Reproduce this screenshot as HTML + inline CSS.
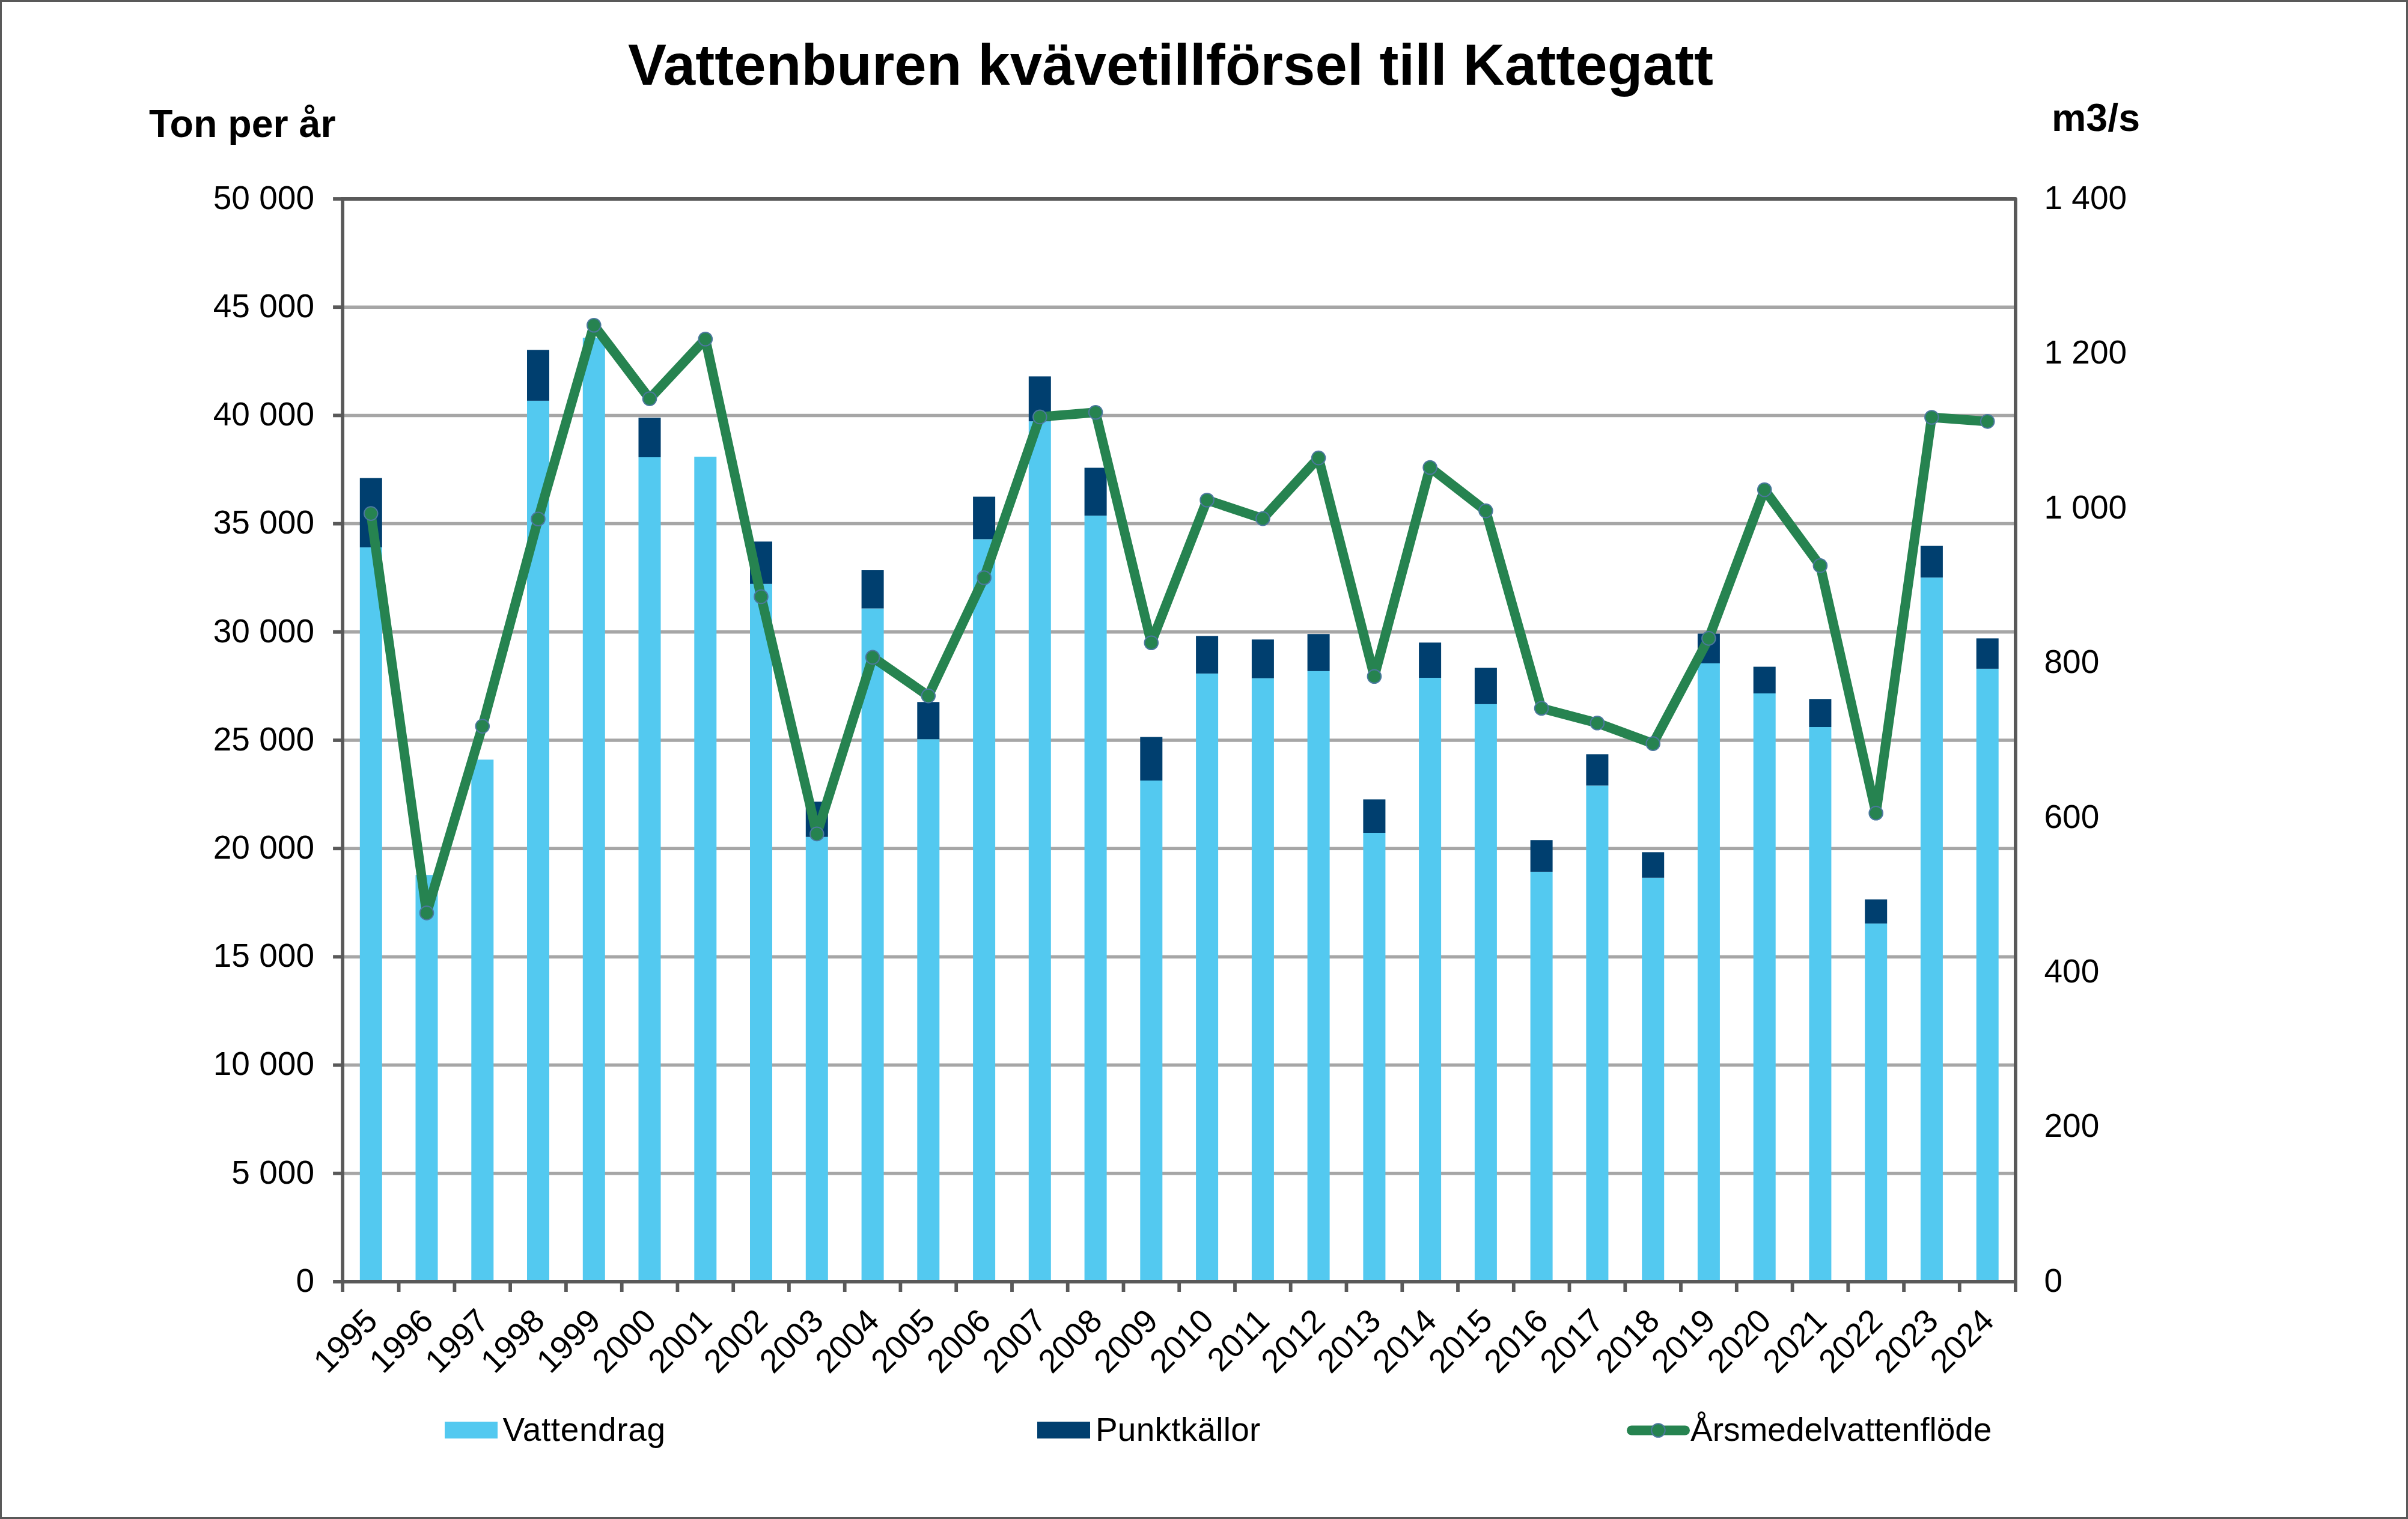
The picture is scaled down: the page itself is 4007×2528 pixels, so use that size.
<!DOCTYPE html><html><head><meta charset="utf-8"><style>html,body{margin:0;padding:0;background:#fff;}svg{display:block;font-family:"Liberation Sans", sans-serif;}</style></head><body>
<svg width="4007" height="2528" viewBox="0 0 4007 2528">
<rect x="0" y="0" width="4007" height="2528" fill="#fff"/>
<rect x="1.5" y="1.5" width="4004" height="2525" fill="none" stroke="#595959" stroke-width="3"/>
<line x1="570.1" y1="511.2" x2="3353.9" y2="511.2" stroke="#a6a6a6" stroke-width="5.5"/>
<line x1="570.1" y1="691.4" x2="3353.9" y2="691.4" stroke="#a6a6a6" stroke-width="5.5"/>
<line x1="570.1" y1="871.6" x2="3353.9" y2="871.6" stroke="#a6a6a6" stroke-width="5.5"/>
<line x1="570.1" y1="1051.8" x2="3353.9" y2="1051.8" stroke="#a6a6a6" stroke-width="5.5"/>
<line x1="570.1" y1="1232.0" x2="3353.9" y2="1232.0" stroke="#a6a6a6" stroke-width="5.5"/>
<line x1="570.1" y1="1412.2" x2="3353.9" y2="1412.2" stroke="#a6a6a6" stroke-width="5.5"/>
<line x1="570.1" y1="1592.4" x2="3353.9" y2="1592.4" stroke="#a6a6a6" stroke-width="5.5"/>
<line x1="570.1" y1="1772.6" x2="3353.9" y2="1772.6" stroke="#a6a6a6" stroke-width="5.5"/>
<line x1="570.1" y1="1952.8" x2="3353.9" y2="1952.8" stroke="#a6a6a6" stroke-width="5.5"/>
<rect x="598.8" y="910.9" width="37.0" height="1222.1" fill="#53c9f0"/>
<rect x="598.8" y="795.6" width="37.0" height="115.3" fill="#003f6f"/>
<rect x="691.5" y="1456.2" width="37.0" height="676.8" fill="#53c9f0"/>
<rect x="784.3" y="1264.2" width="37.0" height="868.8" fill="#53c9f0"/>
<rect x="877.0" y="666.9" width="37.0" height="1466.1" fill="#53c9f0"/>
<rect x="877.0" y="582.3" width="37.0" height="84.6" fill="#003f6f"/>
<rect x="969.8" y="562.0" width="37.0" height="1571.0" fill="#53c9f0"/>
<rect x="1062.5" y="761.0" width="37.0" height="1372.0" fill="#53c9f0"/>
<rect x="1062.5" y="695.2" width="37.0" height="65.8" fill="#003f6f"/>
<rect x="1155.3" y="760.1" width="37.0" height="1372.9" fill="#53c9f0"/>
<rect x="1248.0" y="971.8" width="37.0" height="1161.2" fill="#53c9f0"/>
<rect x="1248.0" y="901.3" width="37.0" height="70.5" fill="#003f6f"/>
<rect x="1340.8" y="1392.8" width="37.0" height="740.2" fill="#53c9f0"/>
<rect x="1340.8" y="1334.2" width="37.0" height="58.6" fill="#003f6f"/>
<rect x="1433.6" y="1012.6" width="37.0" height="1120.4" fill="#53c9f0"/>
<rect x="1433.6" y="949.0" width="37.0" height="63.6" fill="#003f6f"/>
<rect x="1526.3" y="1230.2" width="37.0" height="902.8" fill="#53c9f0"/>
<rect x="1526.3" y="1168.3" width="37.0" height="61.9" fill="#003f6f"/>
<rect x="1619.1" y="897.4" width="37.0" height="1235.6" fill="#53c9f0"/>
<rect x="1619.1" y="826.6" width="37.0" height="70.8" fill="#003f6f"/>
<rect x="1711.8" y="701.2" width="37.0" height="1431.8" fill="#53c9f0"/>
<rect x="1711.8" y="626.4" width="37.0" height="74.8" fill="#003f6f"/>
<rect x="1804.6" y="858.2" width="37.0" height="1274.8" fill="#53c9f0"/>
<rect x="1804.6" y="778.5" width="37.0" height="79.7" fill="#003f6f"/>
<rect x="1897.3" y="1299.0" width="37.0" height="834.0" fill="#53c9f0"/>
<rect x="1897.3" y="1226.5" width="37.0" height="72.5" fill="#003f6f"/>
<rect x="1990.1" y="1120.9" width="37.0" height="1012.1" fill="#53c9f0"/>
<rect x="1990.1" y="1058.4" width="37.0" height="62.5" fill="#003f6f"/>
<rect x="2082.9" y="1128.8" width="37.0" height="1004.2" fill="#53c9f0"/>
<rect x="2082.9" y="1064.3" width="37.0" height="64.5" fill="#003f6f"/>
<rect x="2175.6" y="1116.9" width="37.0" height="1016.1" fill="#53c9f0"/>
<rect x="2175.6" y="1055.2" width="37.0" height="61.7" fill="#003f6f"/>
<rect x="2268.4" y="1386.0" width="37.0" height="747.0" fill="#53c9f0"/>
<rect x="2268.4" y="1330.4" width="37.0" height="55.6" fill="#003f6f"/>
<rect x="2361.1" y="1128.0" width="37.0" height="1005.0" fill="#53c9f0"/>
<rect x="2361.1" y="1069.4" width="37.0" height="58.6" fill="#003f6f"/>
<rect x="2453.9" y="1171.9" width="37.0" height="961.1" fill="#53c9f0"/>
<rect x="2453.9" y="1111.5" width="37.0" height="60.4" fill="#003f6f"/>
<rect x="2546.6" y="1450.9" width="37.0" height="682.1" fill="#53c9f0"/>
<rect x="2546.6" y="1398.2" width="37.0" height="52.7" fill="#003f6f"/>
<rect x="2639.4" y="1307.4" width="37.0" height="825.6" fill="#53c9f0"/>
<rect x="2639.4" y="1255.3" width="37.0" height="52.1" fill="#003f6f"/>
<rect x="2732.2" y="1460.8" width="37.0" height="672.2" fill="#53c9f0"/>
<rect x="2732.2" y="1418.3" width="37.0" height="42.5" fill="#003f6f"/>
<rect x="2824.9" y="1104.0" width="37.0" height="1029.0" fill="#53c9f0"/>
<rect x="2824.9" y="1054.5" width="37.0" height="49.5" fill="#003f6f"/>
<rect x="2917.7" y="1154.0" width="37.0" height="979.0" fill="#53c9f0"/>
<rect x="2917.7" y="1109.6" width="37.0" height="44.4" fill="#003f6f"/>
<rect x="3010.4" y="1210.0" width="37.0" height="923.0" fill="#53c9f0"/>
<rect x="3010.4" y="1163.3" width="37.0" height="46.7" fill="#003f6f"/>
<rect x="3103.2" y="1536.9" width="37.0" height="596.1" fill="#53c9f0"/>
<rect x="3103.2" y="1496.8" width="37.0" height="40.1" fill="#003f6f"/>
<rect x="3195.9" y="961.2" width="37.0" height="1171.8" fill="#53c9f0"/>
<rect x="3195.9" y="908.5" width="37.0" height="52.7" fill="#003f6f"/>
<rect x="3288.7" y="1112.9" width="37.0" height="1020.1" fill="#53c9f0"/>
<rect x="3288.7" y="1062.4" width="37.0" height="50.5" fill="#003f6f"/>
<path d="M570.1 331.0 H3353.9 V2150.0" fill="none" stroke="#595959" stroke-width="5.8" stroke-linejoin="round"/>
<line x1="570.1" y1="328.1" x2="570.1" y2="2150.0" stroke="#595959" stroke-width="5.8"/>
<line x1="554.1" y1="2133.0" x2="3353.9" y2="2133.0" stroke="#595959" stroke-width="5.8"/>
<line x1="554.1" y1="331.0" x2="570.1" y2="331.0" stroke="#595959" stroke-width="5.8"/>
<line x1="554.1" y1="511.2" x2="570.1" y2="511.2" stroke="#595959" stroke-width="5.8"/>
<line x1="554.1" y1="691.4" x2="570.1" y2="691.4" stroke="#595959" stroke-width="5.8"/>
<line x1="554.1" y1="871.6" x2="570.1" y2="871.6" stroke="#595959" stroke-width="5.8"/>
<line x1="554.1" y1="1051.8" x2="570.1" y2="1051.8" stroke="#595959" stroke-width="5.8"/>
<line x1="554.1" y1="1232.0" x2="570.1" y2="1232.0" stroke="#595959" stroke-width="5.8"/>
<line x1="554.1" y1="1412.2" x2="570.1" y2="1412.2" stroke="#595959" stroke-width="5.8"/>
<line x1="554.1" y1="1592.4" x2="570.1" y2="1592.4" stroke="#595959" stroke-width="5.8"/>
<line x1="554.1" y1="1772.6" x2="570.1" y2="1772.6" stroke="#595959" stroke-width="5.8"/>
<line x1="554.1" y1="1952.8" x2="570.1" y2="1952.8" stroke="#595959" stroke-width="5.8"/>
<line x1="663.6" y1="2133.0" x2="663.6" y2="2150.0" stroke="#595959" stroke-width="5.8"/>
<line x1="756.4" y1="2133.0" x2="756.4" y2="2150.0" stroke="#595959" stroke-width="5.8"/>
<line x1="849.1" y1="2133.0" x2="849.1" y2="2150.0" stroke="#595959" stroke-width="5.8"/>
<line x1="941.9" y1="2133.0" x2="941.9" y2="2150.0" stroke="#595959" stroke-width="5.8"/>
<line x1="1034.7" y1="2133.0" x2="1034.7" y2="2150.0" stroke="#595959" stroke-width="5.8"/>
<line x1="1127.4" y1="2133.0" x2="1127.4" y2="2150.0" stroke="#595959" stroke-width="5.8"/>
<line x1="1220.2" y1="2133.0" x2="1220.2" y2="2150.0" stroke="#595959" stroke-width="5.8"/>
<line x1="1312.9" y1="2133.0" x2="1312.9" y2="2150.0" stroke="#595959" stroke-width="5.8"/>
<line x1="1405.7" y1="2133.0" x2="1405.7" y2="2150.0" stroke="#595959" stroke-width="5.8"/>
<line x1="1498.4" y1="2133.0" x2="1498.4" y2="2150.0" stroke="#595959" stroke-width="5.8"/>
<line x1="1591.2" y1="2133.0" x2="1591.2" y2="2150.0" stroke="#595959" stroke-width="5.8"/>
<line x1="1684.0" y1="2133.0" x2="1684.0" y2="2150.0" stroke="#595959" stroke-width="5.8"/>
<line x1="1776.7" y1="2133.0" x2="1776.7" y2="2150.0" stroke="#595959" stroke-width="5.8"/>
<line x1="1869.5" y1="2133.0" x2="1869.5" y2="2150.0" stroke="#595959" stroke-width="5.8"/>
<line x1="1962.2" y1="2133.0" x2="1962.2" y2="2150.0" stroke="#595959" stroke-width="5.8"/>
<line x1="2055.0" y1="2133.0" x2="2055.0" y2="2150.0" stroke="#595959" stroke-width="5.8"/>
<line x1="2147.7" y1="2133.0" x2="2147.7" y2="2150.0" stroke="#595959" stroke-width="5.8"/>
<line x1="2240.5" y1="2133.0" x2="2240.5" y2="2150.0" stroke="#595959" stroke-width="5.8"/>
<line x1="2333.3" y1="2133.0" x2="2333.3" y2="2150.0" stroke="#595959" stroke-width="5.8"/>
<line x1="2426.0" y1="2133.0" x2="2426.0" y2="2150.0" stroke="#595959" stroke-width="5.8"/>
<line x1="2518.8" y1="2133.0" x2="2518.8" y2="2150.0" stroke="#595959" stroke-width="5.8"/>
<line x1="2611.5" y1="2133.0" x2="2611.5" y2="2150.0" stroke="#595959" stroke-width="5.8"/>
<line x1="2704.3" y1="2133.0" x2="2704.3" y2="2150.0" stroke="#595959" stroke-width="5.8"/>
<line x1="2797.0" y1="2133.0" x2="2797.0" y2="2150.0" stroke="#595959" stroke-width="5.8"/>
<line x1="2889.8" y1="2133.0" x2="2889.8" y2="2150.0" stroke="#595959" stroke-width="5.8"/>
<line x1="2982.6" y1="2133.0" x2="2982.6" y2="2150.0" stroke="#595959" stroke-width="5.8"/>
<line x1="3075.3" y1="2133.0" x2="3075.3" y2="2150.0" stroke="#595959" stroke-width="5.8"/>
<line x1="3168.1" y1="2133.0" x2="3168.1" y2="2150.0" stroke="#595959" stroke-width="5.8"/>
<line x1="3260.8" y1="2133.0" x2="3260.8" y2="2150.0" stroke="#595959" stroke-width="5.8"/>
<polyline points="617.2,854.6 710.0,1519.4 802.8,1208.6 895.5,863.8 988.3,541.3 1081.0,663.6 1173.8,564.2 1266.5,993.0 1359.3,1387.9 1452.1,1093.9 1544.8,1158.1 1637.6,961.5 1730.3,693.9 1823.1,686.3 1915.8,1069.7 2008.6,832.2 2101.4,863.1 2194.1,762.1 2286.9,1125.7 2379.6,778.0 2472.4,850.1 2565.1,1178.7 2657.9,1203.3 2750.7,1237.6 2843.4,1062.4 2936.2,815.0 3028.9,941.4 3121.7,1353.2 3214.4,694.5 3307.2,701.4" fill="none" stroke="#268350" stroke-width="16" stroke-linejoin="round" stroke-linecap="round"/>
<circle cx="617.2" cy="854.6" r="11.3" fill="#268350" stroke="#4b789e" stroke-width="2.0"/>
<circle cx="710.0" cy="1519.4" r="11.3" fill="#268350" stroke="#4b789e" stroke-width="2.0"/>
<circle cx="802.8" cy="1208.6" r="11.3" fill="#268350" stroke="#4b789e" stroke-width="2.0"/>
<circle cx="895.5" cy="863.8" r="11.3" fill="#268350" stroke="#4b789e" stroke-width="2.0"/>
<circle cx="988.3" cy="541.3" r="11.3" fill="#268350" stroke="#4b789e" stroke-width="2.0"/>
<circle cx="1081.0" cy="663.6" r="11.3" fill="#268350" stroke="#4b789e" stroke-width="2.0"/>
<circle cx="1173.8" cy="564.2" r="11.3" fill="#268350" stroke="#4b789e" stroke-width="2.0"/>
<circle cx="1266.5" cy="993.0" r="11.3" fill="#268350" stroke="#4b789e" stroke-width="2.0"/>
<circle cx="1359.3" cy="1387.9" r="11.3" fill="#268350" stroke="#4b789e" stroke-width="2.0"/>
<circle cx="1452.1" cy="1093.9" r="11.3" fill="#268350" stroke="#4b789e" stroke-width="2.0"/>
<circle cx="1544.8" cy="1158.1" r="11.3" fill="#268350" stroke="#4b789e" stroke-width="2.0"/>
<circle cx="1637.6" cy="961.5" r="11.3" fill="#268350" stroke="#4b789e" stroke-width="2.0"/>
<circle cx="1730.3" cy="693.9" r="11.3" fill="#268350" stroke="#4b789e" stroke-width="2.0"/>
<circle cx="1823.1" cy="686.3" r="11.3" fill="#268350" stroke="#4b789e" stroke-width="2.0"/>
<circle cx="1915.8" cy="1069.7" r="11.3" fill="#268350" stroke="#4b789e" stroke-width="2.0"/>
<circle cx="2008.6" cy="832.2" r="11.3" fill="#268350" stroke="#4b789e" stroke-width="2.0"/>
<circle cx="2101.4" cy="863.1" r="11.3" fill="#268350" stroke="#4b789e" stroke-width="2.0"/>
<circle cx="2194.1" cy="762.1" r="11.3" fill="#268350" stroke="#4b789e" stroke-width="2.0"/>
<circle cx="2286.9" cy="1125.7" r="11.3" fill="#268350" stroke="#4b789e" stroke-width="2.0"/>
<circle cx="2379.6" cy="778.0" r="11.3" fill="#268350" stroke="#4b789e" stroke-width="2.0"/>
<circle cx="2472.4" cy="850.1" r="11.3" fill="#268350" stroke="#4b789e" stroke-width="2.0"/>
<circle cx="2565.1" cy="1178.7" r="11.3" fill="#268350" stroke="#4b789e" stroke-width="2.0"/>
<circle cx="2657.9" cy="1203.3" r="11.3" fill="#268350" stroke="#4b789e" stroke-width="2.0"/>
<circle cx="2750.7" cy="1237.6" r="11.3" fill="#268350" stroke="#4b789e" stroke-width="2.0"/>
<circle cx="2843.4" cy="1062.4" r="11.3" fill="#268350" stroke="#4b789e" stroke-width="2.0"/>
<circle cx="2936.2" cy="815.0" r="11.3" fill="#268350" stroke="#4b789e" stroke-width="2.0"/>
<circle cx="3028.9" cy="941.4" r="11.3" fill="#268350" stroke="#4b789e" stroke-width="2.0"/>
<circle cx="3121.7" cy="1353.2" r="11.3" fill="#268350" stroke="#4b789e" stroke-width="2.0"/>
<circle cx="3214.4" cy="694.5" r="11.3" fill="#268350" stroke="#4b789e" stroke-width="2.0"/>
<circle cx="3307.2" cy="701.4" r="11.3" fill="#268350" stroke="#4b789e" stroke-width="2.0"/>
<text x="523" y="2149.8" font-size="55" text-anchor="end" fill="#000">0</text>
<text x="523" y="1969.6" font-size="55" text-anchor="end" fill="#000">5 000</text>
<text x="523" y="1789.4" font-size="55" text-anchor="end" fill="#000">10 000</text>
<text x="523" y="1609.2" font-size="55" text-anchor="end" fill="#000">15 000</text>
<text x="523" y="1429.0" font-size="55" text-anchor="end" fill="#000">20 000</text>
<text x="523" y="1248.8" font-size="55" text-anchor="end" fill="#000">25 000</text>
<text x="523" y="1068.6" font-size="55" text-anchor="end" fill="#000">30 000</text>
<text x="523" y="888.4" font-size="55" text-anchor="end" fill="#000">35 000</text>
<text x="523" y="708.2" font-size="55" text-anchor="end" fill="#000">40 000</text>
<text x="523" y="528.0" font-size="55" text-anchor="end" fill="#000">45 000</text>
<text x="523" y="347.8" font-size="55" text-anchor="end" fill="#000">50 000</text>
<text x="3401.5" y="2149.8" font-size="55" fill="#000">0</text>
<text x="3401.5" y="1892.4" font-size="55" fill="#000">200</text>
<text x="3401.5" y="1634.9" font-size="55" fill="#000">400</text>
<text x="3401.5" y="1377.5" font-size="55" fill="#000">600</text>
<text x="3401.5" y="1120.1" font-size="55" fill="#000">800</text>
<text x="3401.5" y="862.7" font-size="55" fill="#000">1 000</text>
<text x="3401.5" y="605.2" font-size="55" fill="#000">1 200</text>
<text x="3401.5" y="347.8" font-size="55" fill="#000">1 400</text>
<text transform="translate(631.2,2201.5) rotate(-45)" font-size="55" text-anchor="end" fill="#000">1995</text>
<text transform="translate(724.0,2201.5) rotate(-45)" font-size="55" text-anchor="end" fill="#000">1996</text>
<text transform="translate(816.8,2201.5) rotate(-45)" font-size="55" text-anchor="end" fill="#000">1997</text>
<text transform="translate(909.5,2201.5) rotate(-45)" font-size="55" text-anchor="end" fill="#000">1998</text>
<text transform="translate(1002.3,2201.5) rotate(-45)" font-size="55" text-anchor="end" fill="#000">1999</text>
<text transform="translate(1095.0,2201.5) rotate(-45)" font-size="55" text-anchor="end" fill="#000">2000</text>
<text transform="translate(1187.8,2201.5) rotate(-45)" font-size="55" text-anchor="end" fill="#000">2001</text>
<text transform="translate(1280.5,2201.5) rotate(-45)" font-size="55" text-anchor="end" fill="#000">2002</text>
<text transform="translate(1373.3,2201.5) rotate(-45)" font-size="55" text-anchor="end" fill="#000">2003</text>
<text transform="translate(1466.1,2201.5) rotate(-45)" font-size="55" text-anchor="end" fill="#000">2004</text>
<text transform="translate(1558.8,2201.5) rotate(-45)" font-size="55" text-anchor="end" fill="#000">2005</text>
<text transform="translate(1651.6,2201.5) rotate(-45)" font-size="55" text-anchor="end" fill="#000">2006</text>
<text transform="translate(1744.3,2201.5) rotate(-45)" font-size="55" text-anchor="end" fill="#000">2007</text>
<text transform="translate(1837.1,2201.5) rotate(-45)" font-size="55" text-anchor="end" fill="#000">2008</text>
<text transform="translate(1929.8,2201.5) rotate(-45)" font-size="55" text-anchor="end" fill="#000">2009</text>
<text transform="translate(2022.6,2201.5) rotate(-45)" font-size="55" text-anchor="end" fill="#000">2010</text>
<text transform="translate(2115.4,2201.5) rotate(-45)" font-size="55" text-anchor="end" fill="#000">2011</text>
<text transform="translate(2208.1,2201.5) rotate(-45)" font-size="55" text-anchor="end" fill="#000">2012</text>
<text transform="translate(2300.9,2201.5) rotate(-45)" font-size="55" text-anchor="end" fill="#000">2013</text>
<text transform="translate(2393.6,2201.5) rotate(-45)" font-size="55" text-anchor="end" fill="#000">2014</text>
<text transform="translate(2486.4,2201.5) rotate(-45)" font-size="55" text-anchor="end" fill="#000">2015</text>
<text transform="translate(2579.1,2201.5) rotate(-45)" font-size="55" text-anchor="end" fill="#000">2016</text>
<text transform="translate(2671.9,2201.5) rotate(-45)" font-size="55" text-anchor="end" fill="#000">2017</text>
<text transform="translate(2764.7,2201.5) rotate(-45)" font-size="55" text-anchor="end" fill="#000">2018</text>
<text transform="translate(2857.4,2201.5) rotate(-45)" font-size="55" text-anchor="end" fill="#000">2019</text>
<text transform="translate(2950.2,2201.5) rotate(-45)" font-size="55" text-anchor="end" fill="#000">2020</text>
<text transform="translate(3042.9,2201.5) rotate(-45)" font-size="55" text-anchor="end" fill="#000">2021</text>
<text transform="translate(3135.7,2201.5) rotate(-45)" font-size="55" text-anchor="end" fill="#000">2022</text>
<text transform="translate(3228.4,2201.5) rotate(-45)" font-size="55" text-anchor="end" fill="#000">2023</text>
<text transform="translate(3321.2,2201.5) rotate(-45)" font-size="55" text-anchor="end" fill="#000">2024</text>
<text x="1948" y="141" font-size="96" font-weight="bold" text-anchor="middle" textLength="1806" fill="#000">Vattenburen kvävetillförsel till Kattegatt</text>
<text x="248" y="228" font-size="64.5" font-weight="bold" fill="#000">Ton per år</text>
<text x="3414" y="218" font-size="64.5" font-weight="bold" fill="#000">m3/s</text>
<rect x="740" y="2366" width="88" height="28" fill="#53c9f0"/>
<text x="836.6" y="2398" font-size="55" textLength="270.4" fill="#000">Vattendrag</text>
<rect x="1726" y="2366" width="88" height="28" fill="#003f6f"/>
<text x="1822.9" y="2398" font-size="55" textLength="274.4" fill="#000">Punktkällor</text>
<line x1="2715" y1="2380.5" x2="2804" y2="2380.5" stroke="#268350" stroke-width="16" stroke-linecap="round"/>
<circle cx="2759.4" cy="2380.5" r="11.3" fill="#268350" stroke="#4b789e" stroke-width="2.0"/>
<text x="2813" y="2398" font-size="55" fill="#000">Årsmedelvattenflöde</text>
</svg></body></html>
